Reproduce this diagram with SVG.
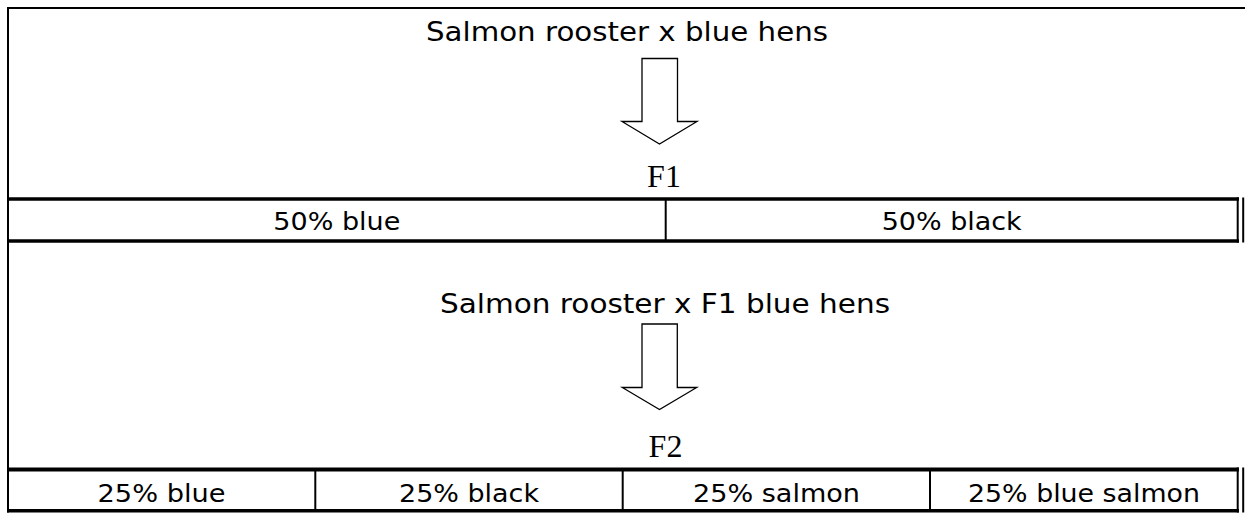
<svg xmlns="http://www.w3.org/2000/svg" width="1245" height="513" viewBox="0 0 1245 513">
<style>
.bg{fill:#ffffff}
.thin{stroke:#000;stroke-width:2;fill:none}
.thick{stroke:#000;stroke-width:3.5;fill:none}
.sans{font-family:"DejaVu Sans","Verdana",sans-serif;fill:#000;text-anchor:middle}
.head{font-size:26px}
.cell{font-size:24px}
.serif{font-family:"Liberation Serif","Times New Roman",serif;font-size:32px;fill:#000;text-anchor:middle}
.arrow{fill:#fff;stroke:#000;stroke-width:1.3;stroke-linejoin:miter}
</style>
<rect class="bg" x="0" y="0" width="1245" height="513"/>
<g id="frame">
  <line class="thin" x1="7" y1="8" x2="1245" y2="8"/>
  <line class="thin" x1="8" y1="7" x2="8" y2="512.5"/>
  <line class="thick" x1="7" y1="199" x2="1239" y2="199"/>
  <line class="thick" x1="7" y1="241" x2="1239" y2="241"/>
  <line class="thin" x1="665.7" y1="199" x2="665.7" y2="241"/>
  <line class="thin" x1="1237.7" y1="197.5" x2="1237.7" y2="242.5"/>
  <line class="thin" x1="1243.2" y1="197.5" x2="1243.2" y2="242.5"/>
  <line class="thick" x1="7" y1="469.5" x2="1239" y2="469.5" style="stroke-width:4"/>
  <line class="thick" x1="7" y1="510.7" x2="1239" y2="510.7"/>
  <line class="thin" x1="315.3" y1="469.5" x2="315.3" y2="510.7"/>
  <line class="thin" x1="622.7" y1="469.5" x2="622.7" y2="510.7"/>
  <line class="thin" x1="930" y1="469.5" x2="930" y2="510.7"/>
  <line class="thin" x1="1237.7" y1="467.5" x2="1237.7" y2="512.5"/>
  <line class="thin" x1="1243.2" y1="467.5" x2="1243.2" y2="512.5"/>
</g>
<g id="cross1">
  <text class="sans head" x="627" y="40.5" textLength="402" lengthAdjust="spacingAndGlyphs">Salmon rooster x blue hens</text>
</g>
<g id="f1">
  <text class="serif" x="664" y="187">F1</text>
</g>
<g id="f1-blue">
  <text class="sans cell" x="336.8" y="230" textLength="127" lengthAdjust="spacingAndGlyphs">50% blue</text>
</g>
<g id="f1-black">
  <text class="sans cell" x="951.7" y="230" textLength="140" lengthAdjust="spacingAndGlyphs">50% black</text>
</g>
<g id="cross2">
  <text class="sans head" x="665" y="312.5" textLength="450" lengthAdjust="spacingAndGlyphs">Salmon rooster x F1 blue hens</text>
</g>
<g id="f2">
  <text class="serif" x="665.5" y="457">F2</text>
</g>
<g id="f2-blue">
  <text class="sans cell" x="161.5" y="502.3" textLength="128" lengthAdjust="spacingAndGlyphs">25% blue</text>
</g>
<g id="f2-black">
  <text class="sans cell" x="469" y="502.3" textLength="140" lengthAdjust="spacingAndGlyphs">25% black</text>
</g>
<g id="f2-salmon">
  <text class="sans cell" x="776.5" y="502.3" textLength="167" lengthAdjust="spacingAndGlyphs">25% salmon</text>
</g>
<g id="f2-bluesalmon">
  <text class="sans cell" x="1084" y="502.3" textLength="232" lengthAdjust="spacingAndGlyphs">25% blue salmon</text>
</g>
<g id="connectors">
  <polygon class="arrow" points="642,58.5 677.5,58.5 677.5,121.5 697,121.5 659.5,144 622,121.5 642,121.5"/>
  <polygon class="arrow" points="642,324 677.3,324 677.3,387.5 696.7,387.5 659.5,409.5 622.3,387.5 642,387.5"/>
</g>
</svg>
